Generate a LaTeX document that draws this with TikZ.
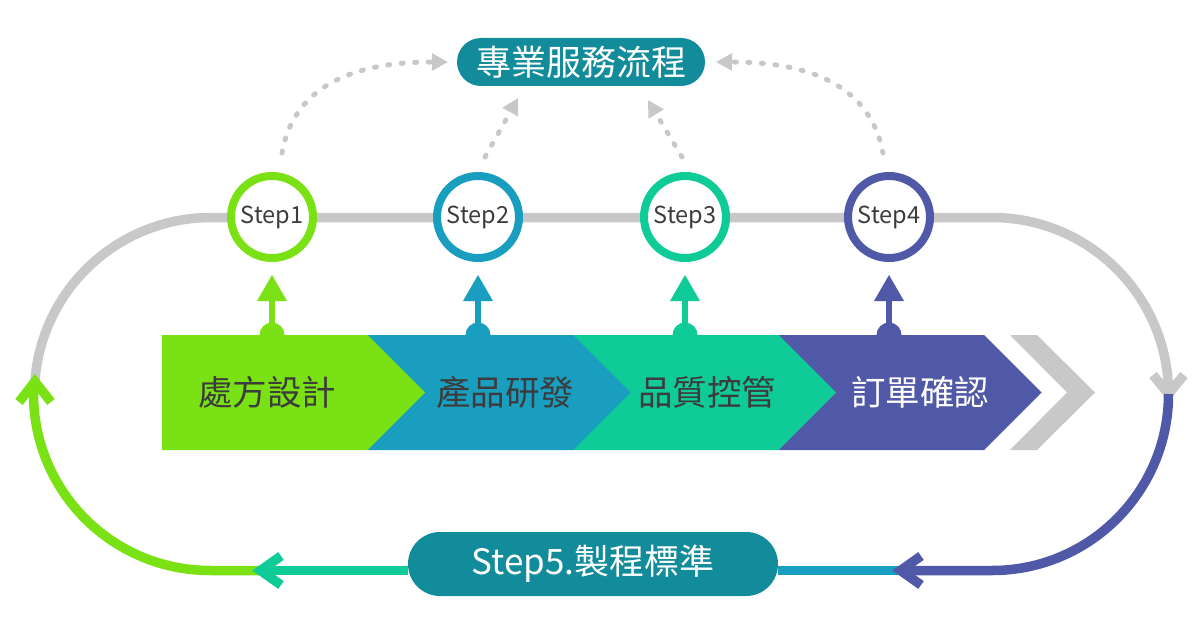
\documentclass[tikz,border=0pt]{standalone}
\usepackage{fontspec}
\setmainfont{Noto Sans CJK TC}
\usepackage{tikz}
\usetikzlibrary{arrows.meta}

\definecolor{stepgreen}{RGB}{122,225,20}
\definecolor{stepblue}{RGB}{26,158,192}
\definecolor{stepteal}{RGB}{14,203,152}
\definecolor{steppurple}{RGB}{80,88,168}
\definecolor{pillteal}{RGB}{18,140,154}
\definecolor{trackgray}{RGB}{200,200,200}
\definecolor{inkgray}{RGB}{60,60,60}

\begin{document}
\begin{tikzpicture}[x=1pt,y=-1pt,
  track/.style={line width=9.5pt},
  vee/.style={line width=9.5pt, miter limit=10},
  dotline/.style={trackgray, line width=5pt, line cap=round, dash pattern=on 2pt off 11.5pt,
    -{Triangle[length=16pt,width=18pt,line width=0pt]}},
  stepring/.style={circle, draw=#1, line width=8pt, fill=white, minimum size=82pt, inner sep=0pt,
    text=inkgray, font=\fontsize{23.5}{23.5}\selectfont},
  stem/.style={#1, line width=6pt, shorten >=13pt, -{Triangle[length=26pt,width=30pt,line width=0pt]}},
  pill/.style={fill=pillteal, text=white, inner sep=0pt, font=\fontsize{35}{35}\selectfont},
  blocktext/.style={text=inkgray, inner sep=0pt, font=\fontsize{34.5}{34.5}\selectfont}]

\useasboundingbox (0,0) rectangle (1201,639);

\coordinate (band) at (0,335);
\coordinate (low) at (0,570.5);

% grey track and steps
\draw[track, trackgray] (34.9,381.7) arc (184:270:176.5) -- (992,217.5) arc (270:360:176.5);
\draw[vee, trackgray] (1153,375) -- (1168.5,394) -- (1184,375);

\node[stepring=stepgreen] (s1) at (272,217) {Step1};
\node[stepring=stepblue] (s2) at (478,217) {Step2};
\node[stepring=stepteal] (s3) at (685,217) {Step3};
\node[stepring=steppurple] (s4) at (889,217) {Step4};

\node[pill, minimum width=248pt, minimum height=48pt, rounded corners=24pt] (title) at (581,62) {專業服務流程};

\draw[dotline] ([shift={(10,-19)}]s1.north) .. controls (292,95) and (340,62) .. ([xshift=-9pt]title.west);
\draw[dotline] ([shift={(7,-15)}]s2.north) -- ([shift={(-63,12)}]title.south);
\draw[dotline] ([shift={(-3,-15)}]s3.north) -- ([shift={(67,14)}]title.south);
\draw[dotline] ([shift={(-6,-19)}]s4.north) .. controls (872,95) and (824,62) .. ([xshift=11pt]title.east);

% stems
\foreach \s/\c in {s1/stepgreen, s2/stepblue, s3/stepteal, s4/steppurple} {
  \fill[\c] (\s |- band) circle (12.5);
  \draw[stem=\c] (\s |- band) -- (\s.south);
}

% chevron band
\foreach \c [count=\i from 0] in {steppurple,stepteal,stepblue,stepgreen} {
  \pgfmathsetmacro\l{778.5-205.5*\i}
  \fill[\c] (\l,335) -- ++(205.5,0) -- ++(57.5,57.5) -- ++(-57.5,57.5) -- ++(-205.5,0) -- cycle;
}
\fill[trackgray] (1010,335) -- (1037,335) -- (1095,392.5) -- (1037,450) -- (1010,450) -- (1067,392.5) -- cycle;

\node[blocktext] (b1) at (267,392.5) {處方設計};
\node[blocktext] (b2) at (505,392.5) {產品研發};
\node[blocktext] (b3) at (707,392.5) {品質控管};
\node[blocktext, text=white] (b4) at (920,392.5) {訂單確認};

% bottom return
\node[pill, minimum width=370pt, minimum height=64pt, rounded corners=32pt] (s5) at (593,564) {Step5.製程標準};

\draw[track, stepblue] (s5.east |- low) -- (900,570.5);
\draw[track, steppurple] (1168.5,394) arc (0:90:176.5) -- (900,570.5);
\draw[vee, steppurple] (921,556) -- (900.5,570.5) -- (921,585);

\draw[track, stepteal] (s5.west |- low) -- (260.5,570.5);
\draw[track, stepgreen] (260.5,570.5) -- (210,570.5) arc (90:184:176.5);
\draw[vee, stepteal] (281,556) -- (260.5,570.5) -- (281,585);
\draw[vee, stepgreen] (19,402) -- (34.9,381.7) -- (51,402);

\end{tikzpicture}
\end{document}
